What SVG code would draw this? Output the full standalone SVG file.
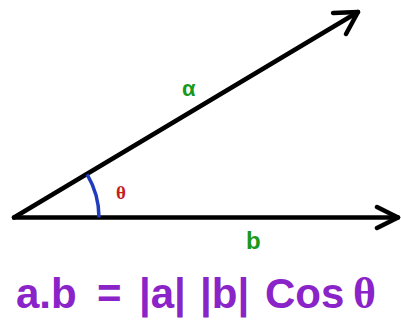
<svg xmlns="http://www.w3.org/2000/svg" width="401" height="320" viewBox="0 0 401 320">
<style>
.vec{stroke:#000;stroke-width:4.5;fill:none;stroke-linecap:round;stroke-linejoin:round}
.lbl{font-family:"Liberation Sans",Arial,sans-serif;font-weight:bold}
.grk{font-family:"Liberation Serif","DejaVu Serif",serif;font-weight:bold}
</style>
<rect width="401" height="320" fill="#fff"/>
<g id="connectors">
<g id="vector-a">
<path class="vec" d="M14 217.5 L358 12"/>
<path class="vec" d="M333 13 L358 12 L346 34"/>
</g>
<g id="vector-b">
<path class="vec" d="M14 217.5 L398 217.5"/>
<path class="vec" d="M377 207 L398 217.5 L377 228"/>
</g>
<path id="angle-arc" d="M87.1 174.4 A85 85 0 0 1 99 217.5" fill="none" stroke="#1f3cbf" stroke-width="3.5"/>
</g>
<g id="label-alpha"><text class="lbl" x="182" y="96" font-size="22" fill="#1a981a">α</text></g>
<g id="label-theta"><text class="grk" x="116" y="199" font-size="19" fill="#c41e1e">θ</text></g>
<g id="label-b"><text class="lbl" x="246" y="249" font-size="24" fill="#1a981a">b</text></g>
<g id="formula"><text class="lbl" y="308" font-size="42" fill="#8a24c9"><tspan x="16">a.b</tspan><tspan x="97">=</tspan><tspan x="139">|a|</tspan><tspan x="200">|b|</tspan><tspan x="265">Cos</tspan><tspan x="353" class="grk" font-size="44">θ</tspan></text></g>
</svg>
